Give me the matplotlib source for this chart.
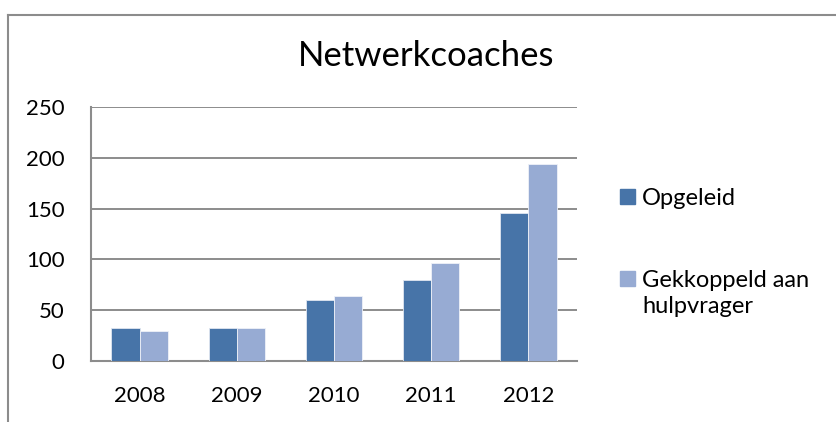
import matplotlib.pyplot as plt
from matplotlib.lines import Line2D
from matplotlib.patches import Rectangle
import numpy as np

# data
jaren = ["2008", "2009", "2010", "2011", "2012"]
opgeleid = [32, 32, 60, 80, 146]
gekoppeld = [30, 32, 64, 96, 194]
series_names = ["Opgeleid", "Gekkoppeld aan\nhulpvrager"]
kleuren = ["#4774A8", "#97ABD3"]

plt.rcParams['font.family'] = ['Lato', 'DejaVu Sans']

fig = plt.figure(figsize=(8.36, 4.22), dpi=100)
ax = fig.add_axes([91 / 836, 1 - 361 / 422, 486 / 836, 254 / 422])

x = np.arange(len(jaren))
breedte = 0.29
ax.bar(x - breedte / 2, opgeleid, breedte, color=kleuren[0], edgecolor="#dfe6f0", linewidth=0.6, zorder=3)
ax.bar(x + breedte / 2, gekoppeld, breedte, color=kleuren[1], edgecolor="#eef1f8", linewidth=0.6, zorder=3)

ax.set_xlim(-0.5, len(jaren) - 0.5)
ax.set_ylim(0, 250)
ax.set_yticks(range(0, 251, 50))
ax.set_xticks(x)
ax.set_xticklabels(jaren)
ax.yaxis.grid(True, color="#8c8c8c", linewidth=1.4, zorder=0)
ax.tick_params(axis="both", length=0, labelsize=16, colors="black")
ax.tick_params(axis="y", pad=19)
ax.tick_params(axis="x", pad=18)
for kant in ["top", "right"]:
    ax.spines[kant].set_visible(False)
for kant in ["left", "bottom"]:
    ax.spines[kant].set_color("#8c8c8c")
    ax.spines[kant].set_linewidth(1.5)

fig.text(426 / 836, 1 - 56 / 422, "Netwerkcoaches", ha="center", va="center", fontsize=25)

# legend, placed by hand like the Excel original
for i, (naam, kleur) in enumerate(zip(series_names, kleuren)):
    y_top = [189, 271][i]
    fig.patches.append(Rectangle((620 / 836, 1 - (y_top + 15) / 422), 15 / 836, 15 / 422,
                                 transform=fig.transFigure, color=kleur))
    fig.text(642 / 836, 1 - (y_top - 1) / 422, naam, ha="left", va="top", fontsize=17,
             linespacing=1.3)

# chart frame (top and left edges visible)
fig.add_artist(Line2D([8 / 836, 1], [1 - 15 / 422, 1 - 15 / 422], transform=fig.transFigure,
                      color="#8c8c8c", linewidth=1.5))
fig.add_artist(Line2D([8 / 836, 8 / 836], [0, 1 - 15 / 422], transform=fig.transFigure,
                      color="#8c8c8c", linewidth=1.5))

fig.savefig("out.png", dpi=100)
